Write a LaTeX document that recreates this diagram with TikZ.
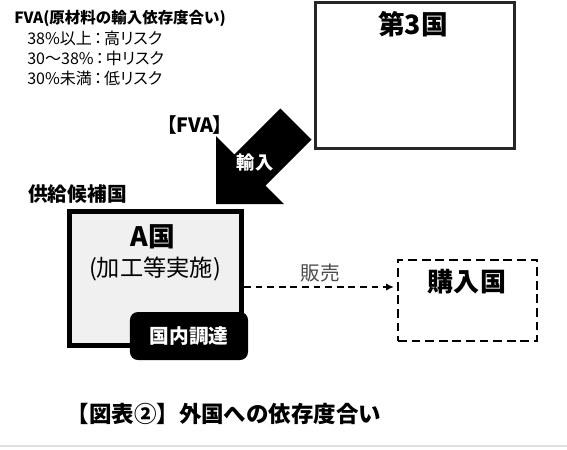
\documentclass[tikz,border=0pt]{standalone}
\usepackage{fontspec}
\setmainfont{Noto Sans CJK JP}
\newfontfamily\paltfont{Noto Sans CJK JP}[RawFeature=+palt]
\usetikzlibrary{arrows.meta, positioning, calc}

\newcommand{\fsz}[1]{\fontsize{#1}{#1}\selectfont}
\newcommand{\rcolon}{\kern1.5pt：\kern1.5pt}

\begin{document}
\begin{tikzpicture}[
  x=0.025cm, y=-0.025cm,
  % ---- styles ----
  lbl/.style = {inner sep=0pt},
  note/.style = {lbl, anchor=west, font=\paltfont\fsz{11.4pt}},
  heading/.style = {lbl, font=\fsz{19pt}\bfseries},
  box3rd/.style = {
    rectangle, draw=black!85, line width=0.0625cm,
    minimum width=4.975cm, minimum height=3.65cm
  },
  abox/.style = {
    rectangle, draw=black, fill=black!6, line width=0.125cm,
    minimum width=4.3cm, minimum height=3.35cm
  },
  procure/.style = {
    rectangle, fill=black, rounded corners=0.2cm,
    minimum width=2.95cm, minimum height=1.2cm,
    text=white, font=\fsz{14pt}\bfseries
  },
  buyerbox/.style = {
    rectangle, draw=black, line width=0.06cm,
    dash pattern=on 0.22cm off 0.12cm,
    minimum width=3.475cm, minimum height=2.025cm
  },
  sell/.style = {
    line width=0.035cm, dash pattern=on 0.17cm off 0.12cm,
    -{Latex[length=5.5pt, width=5pt]}, shorten >=2pt
  },
  bigarrow/.style = {fill=black}
]

\useasboundingbox (0,0) rectangle (567,449);

% ============ LEGEND ============

\node[lbl, anchor=west, font=\fsz{11pt}\bfseries] (fva) at (14,18) {FVA(原材料の輸入依存度合い)};
\node[note] (high) at (27,38) {38\%以上\rcolon 高リスク};
\node[note] (mid) at (27,58) {30〜38\%\rcolon 中リスク};
\node[note] (low) at (27,78) {30\%未満\rcolon 低リスク};

% ============ COUNTRIES ============

% --- third country ---
\node[box3rd] (third) at (415,75.5) {};
\node[heading] (thirdname) at (413,24) {第3国};

% --- country A ---
\node[lbl, anchor=west, font=\fsz{14pt}\bfseries] (cand) at (28,194) {供給候補国};
\node[abox] (akoku) at (155.5,278.5) {};
\node[heading] (aname) at (153,237) {A国};
\node[lbl, font=\fsz{16.5pt}] (aproc) at (155,269) {(加工等実施)};
\node[procure] (domestic) at (189,336) {国内調達};

% --- buyer ---
\node[buyerbox] (buyer) at (467.5,300.5) {};
\node[lbl, font=\fsz{18.5pt}\bfseries] (buyername) at (467,282) {購入国};

% ============ FLOWS ============

% third -> A (import)
\coordinate (tip) at (216,204);
\fill[bigarrow] (tip) -- ++(0,-68) -- ++(18.4,18.5) -- ++(46,-46)
  -- ++(31.1,31.1) -- ++(-46,46) -- ++(18.4,18.4) -- cycle;
\node[lbl, text=white, font=\fsz{13pt}\bfseries] (imp) at (255,163) {輸入};
\node[lbl, font=\paltfont\fsz{14pt}\bfseries] (fvatag) at (195,125) {【FVA】};

% A -> buyer (sales)
\draw[sell] (akoku.east |- 0,287) -- node[lbl, above=3pt, text=black!70, font=\fsz{14pt}] (sales) {販売} (buyer.west |- 0,287);

% ============ CAPTION ============

\node[lbl, font=\fsz{16pt}\bfseries] (caption) at (224,414) {【図表②】外国への依存度合い};
\draw[black!12, line width=0.03cm] (0,446) -- (567,446);

\end{tikzpicture}
\end{document}
